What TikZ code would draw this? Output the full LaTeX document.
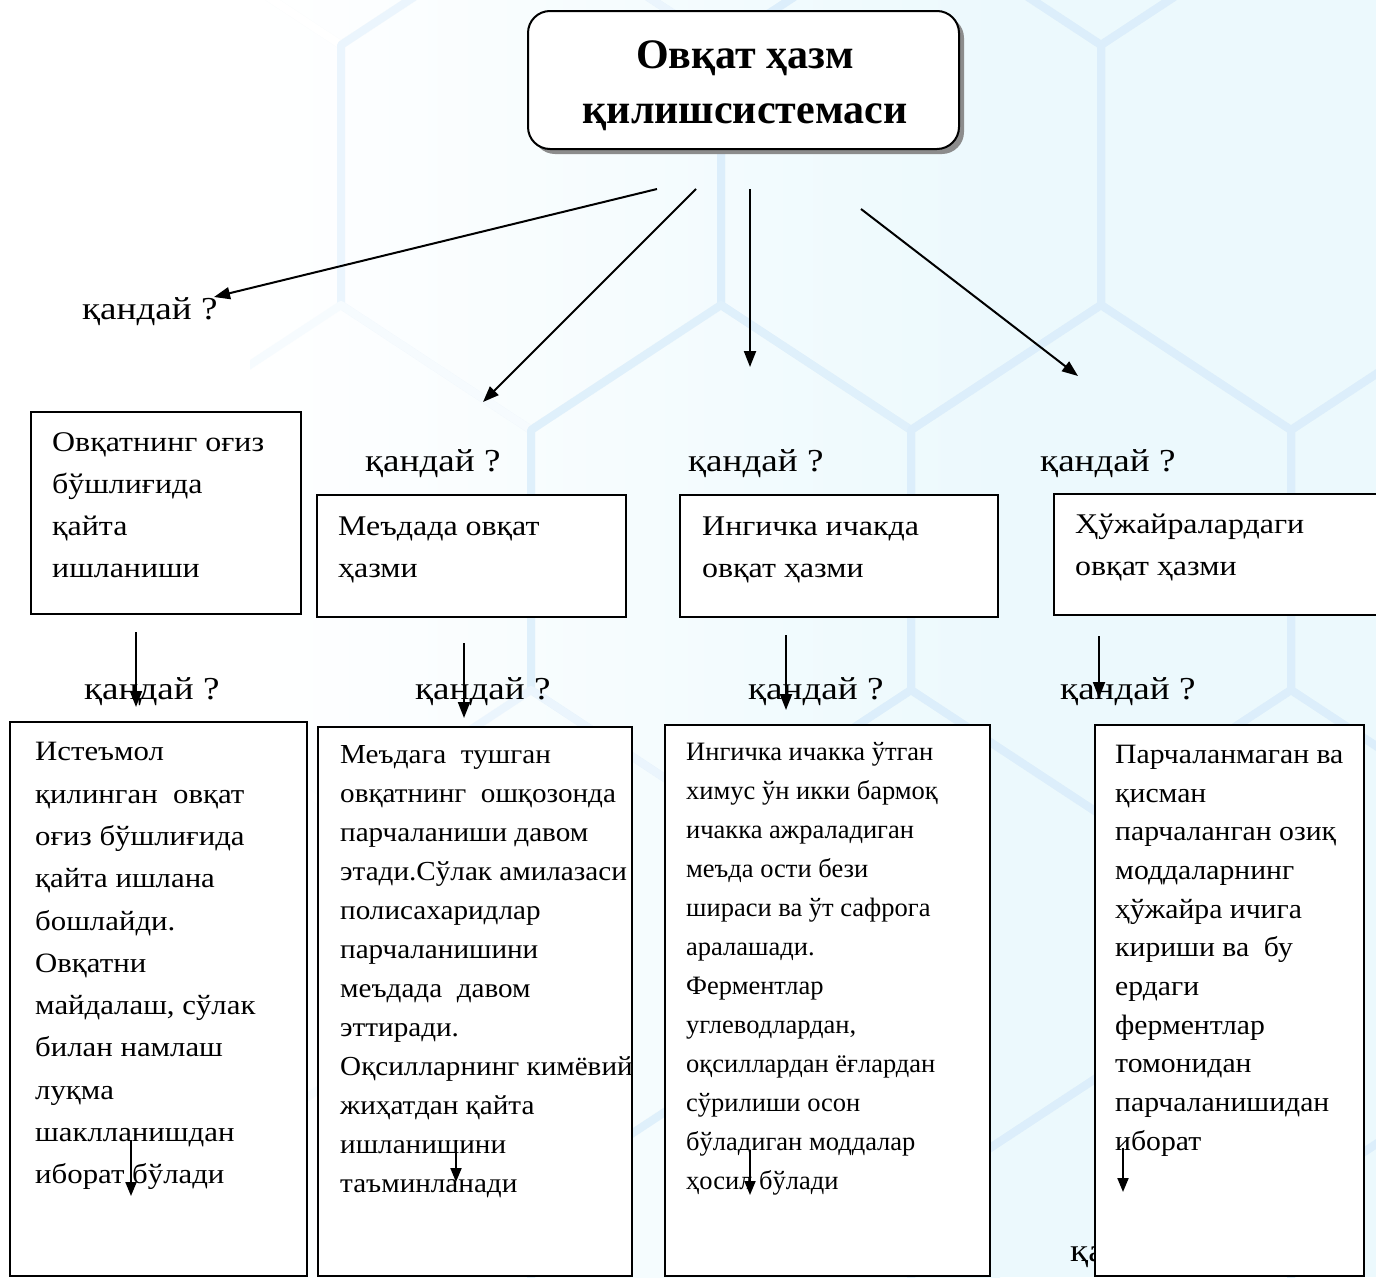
\documentclass[tikz,border=0pt]{standalone}
\usepackage{fontspec}
\setmainfont{Liberation Serif}
\newfontfamily\wideA[FakeStretch=1.12]{Liberation Serif}
\newfontfamily\wideB[FakeStretch=1.06]{Liberation Serif}
\newfontfamily\wideC[FakeStretch=1.10]{Liberation Serif}
\newfontfamily\wideD[FakeStretch=1.16]{Liberation Serif}
\usetikzlibrary{arrows.meta}
\definecolor{hexline}{RGB}{220,238,251}
\definecolor{hexfill}{RGB}{236,249,253}
\definecolor{shadowgray}{RGB}{140,140,140}
\begin{document}
\begin{tikzpicture}[x=1pt,y=-1pt,
  conn/.style={line width=2pt,-{Triangle[length=16pt,width=12pt]}},
  smallconn/.style={line width=2pt,-{Triangle[length=14pt,width=11pt]}},
  boxnode/.style={draw,line width=1.4pt,fill=white,anchor=north west,inner sep=0pt,outer sep=0pt},
  toptext/.style={anchor=north west,inner sep=0pt,align=left,font=\wideA\fontsize{28.5}{42}\selectfont},
  textone/.style={anchor=north west,inner sep=0pt,align=left,font=\wideC\fontsize{28}{42.3}\selectfont},
  texttwo/.style={anchor=north west,inner sep=0pt,align=left,font=\wideB\fontsize{27.5}{39}\selectfont},
  textthree/.style={anchor=north west,inner sep=0pt,align=left,font=\fontsize{26.5}{39}\selectfont},
  textfour/.style={anchor=north west,inner sep=0pt,align=left,font=\wideB\fontsize{28}{38.7}\selectfont},
  askl/.style={inner sep=0pt,font=\wideD\fontsize{32}{34}\selectfont}]
\useasboundingbox (0,0) rectangle (1376,1277);
\fill[white] (0,0) rectangle (1376,1277);
% background watermark
\begin{scope}
  \clip (250,0) rectangle (1376,1277);
  \shade[left color=white,right color=hexfill] (250,0) rectangle (1000,1277);
  \fill[hexfill] (999,0) rectangle (1376,1277);
  \foreach \cy/\off in {-210/0,175/190,560/0,945/190,1330/0}{
    \foreach \i in {-1,0,1,2,3}{
      \pgfmathsetmacro\cx{341+380*\i+\off}
      \pgfmathtruncatemacro\pct{max(0,min(100,(\cx-180)/6))}
      \draw[hexline!\pct!white,line width=8pt,line join=round]
        (\cx,\cy-255) -- (\cx+190,\cy-130) -- (\cx+190,\cy+130) -- (\cx,\cy+255)
        -- (\cx-190,\cy+130) -- (\cx-190,\cy-130) -- cycle;
    }
  }
\end{scope}
% main title box with shadow
\fill[shadowgray,rounded corners=22pt] (533,16) rectangle (964,154);
\node[draw,line width=2pt,fill=white,rounded corners=22pt,anchor=north west,
  minimum width=431pt,minimum height=138pt,inner sep=0pt] (main) at (527,10) {};
\node[inner sep=0pt,align=center,font=\fontsize{42}{55}\selectfont\bfseries] (title)
  at (745,86) {Овқат ҳазм\\қилишсистемаси};
% free ends of connectors
\coordinate (s1) at (657,189);
\coordinate (s2) at (696,189);
\coordinate (s3) at (750,189);
\coordinate (s4) at (861,209);
\coordinate (e2) at (483,402);
\coordinate (e3) at (750,367);
\coordinate (e4) at (1078,376);
% labels
\node[askl,anchor=base west] (q0) at (82,319) {қандай ?};
\coordinate (e1) at (214,297);
\node[askl,anchor=base west] (q1) at (365,471) {қандай ?};
\node[askl,anchor=base west] (q2) at (688,471) {қандай ?};
\node[askl,anchor=base west] (q3) at (1040,471) {қандай ?};
\node[askl,anchor=base west] (r1) at (84,699) {қандай ?};
\node[askl,anchor=base west] (r2) at (415,699) {қандай ?};
\node[askl,anchor=base west] (r3) at (748,699) {қандай ?};
\node[askl,anchor=base west] (r4) at (1060,699) {қандай ?};
\node[askl,anchor=base west] (r5) at (1070,1261) {қандай ?};
% first row boxes
\node[boxnode,minimum width=270pt,minimum height=202pt] (b1) at (31,412) {};
\node[boxnode,minimum width=309pt,minimum height=122pt] (b2) at (317,495) {};
\node[boxnode,minimum width=318pt,minimum height=122pt] (b3) at (680,495) {};
\node[boxnode,minimum width=330pt,minimum height=121pt] (b4) at (1054,494) {};
\node[toptext] (tb1) at (52,422) {\strut Овқатнинг оғиз\\бўшлиғида\\қайта\\ишланиши};
\node[toptext] (tb2) at (338,506) {\strut Меъдада овқат\\ҳазми};
\node[toptext] (tb3) at (702,506) {\strut Ингичка ичакда\\овқат ҳазми};
\node[toptext] (tb4) at (1075,504) {\strut Ҳўжайралардаги\\овқат ҳазми};
% second row boxes
\node[boxnode,minimum width=297pt,minimum height=554pt] (c1) at (10,722) {};
\node[boxnode,minimum width=314pt,minimum height=549pt] (c2) at (318,727) {};
\node[boxnode,minimum width=325pt,minimum height=551pt] (c3) at (665,725) {};
\node[boxnode,minimum width=269pt,minimum height=551pt] (c4) at (1095,725) {};
\node[textone] (tc1) at (35,731) {\strut Истеъмол\\қилинган\ \ овқат\\оғиз бўшлиғида\\қайта ишлана\\бошлайди.\\Овқатни\\майдалаш, сўлак\\билан намлаш\\луқма\\шаклланишдан\\иборат бўлади};
\node[texttwo] (tc2) at (340,736) {\strut Меъдага\ \ тушган\\овқатнинг\ \ ошқозонда\\парчаланиши давом\\этади.Сўлак амилазаси\\полисахаридлар\\парчаланишини\\меъдада\ \ давом\\эттиради.\\Оқсилларнинг кимёвий\\жиҳатдан қайта\\ишланишини\\таъминланади};
\node[textthree] (tc3) at (686,733) {\strut Ингичка ичакка ўтган\\химус ўн икки бармоқ\\ичакка ажраладиган\\меъда ости бези\\шираси ва ўт сафрога\\аралашади.\\Ферментлар\\углеводлардан,\\оқсиллардан ёғлардан\\сўрилиши осон\\бўладиган моддалар\\ҳосил бўлади};
\node[textfour] (tc4) at (1115,736) {\strut Парчаланмаган ва\\қисман\\парчаланган озиқ\\моддаларнинг\\ҳўжайра ичига\\кириши ва\ \ бу\\ердаги\\ферментлар\\томонидан\\парчаланишидан\\иборат};
% connectors from the title box
\draw[conn] (s1) -- (e1);
\draw[conn] (s2) -- (e2);
\draw[conn] (s3) -- (e3);
\draw[conn] (s4) -- (e4);
% connectors below first row boxes
\coordinate (d1a) at (136,632); \coordinate (d1b) at (136,707);
\coordinate (d2a) at (464,643); \coordinate (d2b) at (464,718);
\coordinate (d3a) at (786,635); \coordinate (d3b) at (786,710);
\coordinate (d4a) at (1099,636); \coordinate (d4b) at (1099,698);
\draw[conn] (d1a) -- (d1b);
\draw[conn] (d2a) -- (d2b);
\draw[conn] (d3a) -- (d3b);
\draw[conn] (d4a) -- (d4b);
% small connectors inside second row boxes
\coordinate (f1a) at (131,1140); \coordinate (f1b) at (131,1196);
\coordinate (f2a) at (456,1140); \coordinate (f2b) at (456,1182);
\coordinate (f3a) at (750,1150); \coordinate (f3b) at (750,1195);
\coordinate (f4a) at (1123,1148); \coordinate (f4b) at (1123,1192);
\draw[smallconn] (f1a) -- (f1b);
\draw[smallconn] (f2a) -- (f2b);
\draw[smallconn] (f3a) -- (f3b);
\draw[smallconn] (f4a) -- (f4b);
\end{tikzpicture}
\end{document}
